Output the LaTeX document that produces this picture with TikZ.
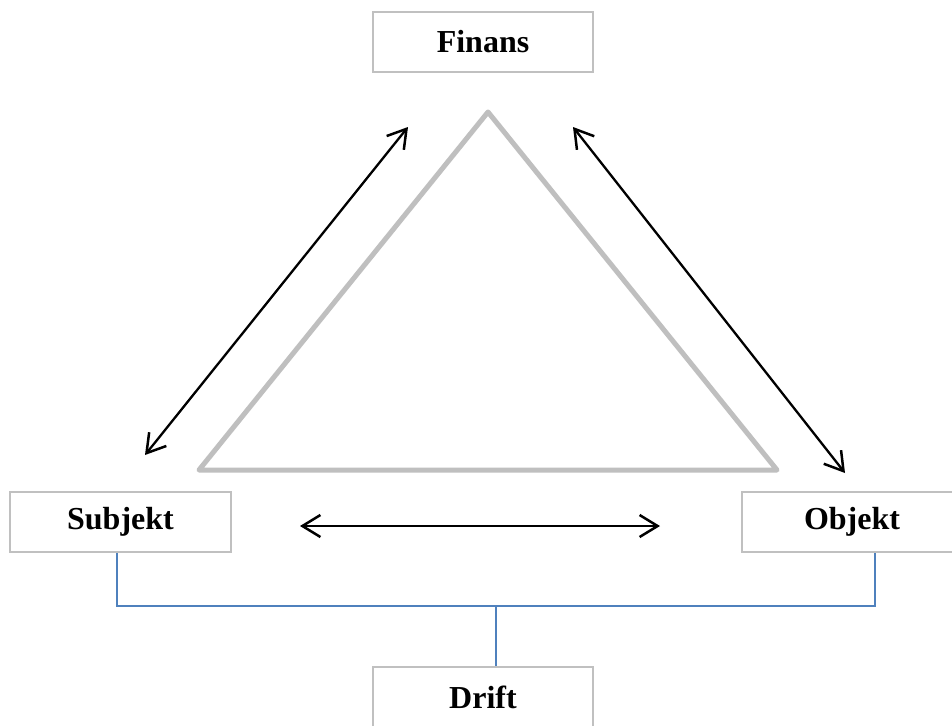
\documentclass[tikz,border=0pt]{standalone}
\usepackage{fontspec}
\setmainfont{Liberation Serif}
\usetikzlibrary{arrows.meta}
\definecolor{boxgray}{RGB}{192,192,192}
\definecolor{trigray}{RGB}{191,191,191}
\definecolor{linkblue}{RGB}{79,129,189}
\tikzset{
  labelbox/.style={draw=boxgray, line width=2pt, fill=white, minimum width=220pt, minimum height=60pt, inner sep=0pt, font=\fontsize{32}{36}\selectfont\bfseries},
  twoway/.style={line width=2.3pt, {Straight Barb[length=18pt,width=22pt,line width=2.5pt]}-{Straight Barb[length=18pt,width=22pt,line width=2.5pt]}},
  bluelink/.style={draw=linkblue, line width=2pt}
}
\begin{document}
\begin{tikzpicture}[x=1pt,y=-1pt]
\useasboundingbox (0,0) rectangle (952,725);
\clip (0,0) rectangle (952,725);
\fill[white] (0,0) rectangle (952,725);
% triangle
\coordinate (apex) at (488,112);
\coordinate (bl) at (199,470);
\coordinate (br) at (777,470);
\draw[trigray, line width=5pt, line join=round] (apex) -- (bl) -- (br) -- cycle;
% boxes
\node[labelbox] (finans) at (483,42) {Finans};
\node[labelbox, minimum width=221pt] (subjekt) at (120.5,522) {Subjekt};
\node[labelbox] (objekt) at (852,522) {Objekt};
\node[labelbox] (drift) at (483,697) {Drift};
% arrows
\coordinate (a1s) at (145,455);
\coordinate (a1e) at (408,127);
\coordinate (a2s) at (573,127);
\coordinate (a2e) at (845,473);
\coordinate (a3s) at (300,526);
\coordinate (a3e) at (660,526);
\draw[twoway] (a1s) -- (a1e);
\draw[twoway] (a2s) -- (a2e);
\draw[twoway] (a3s) -- (a3e);
% blue connectors
\coordinate (jl) at (117,606);
\coordinate (jr) at (875,606);
\coordinate (jm) at (496,606);
\draw[bluelink] (subjekt.south -| jl) -- (jl) -- (jr) -- (objekt.south -| jr);
\draw[bluelink] (jm) -- (drift.north -| jm);
\end{tikzpicture}
\end{document}
